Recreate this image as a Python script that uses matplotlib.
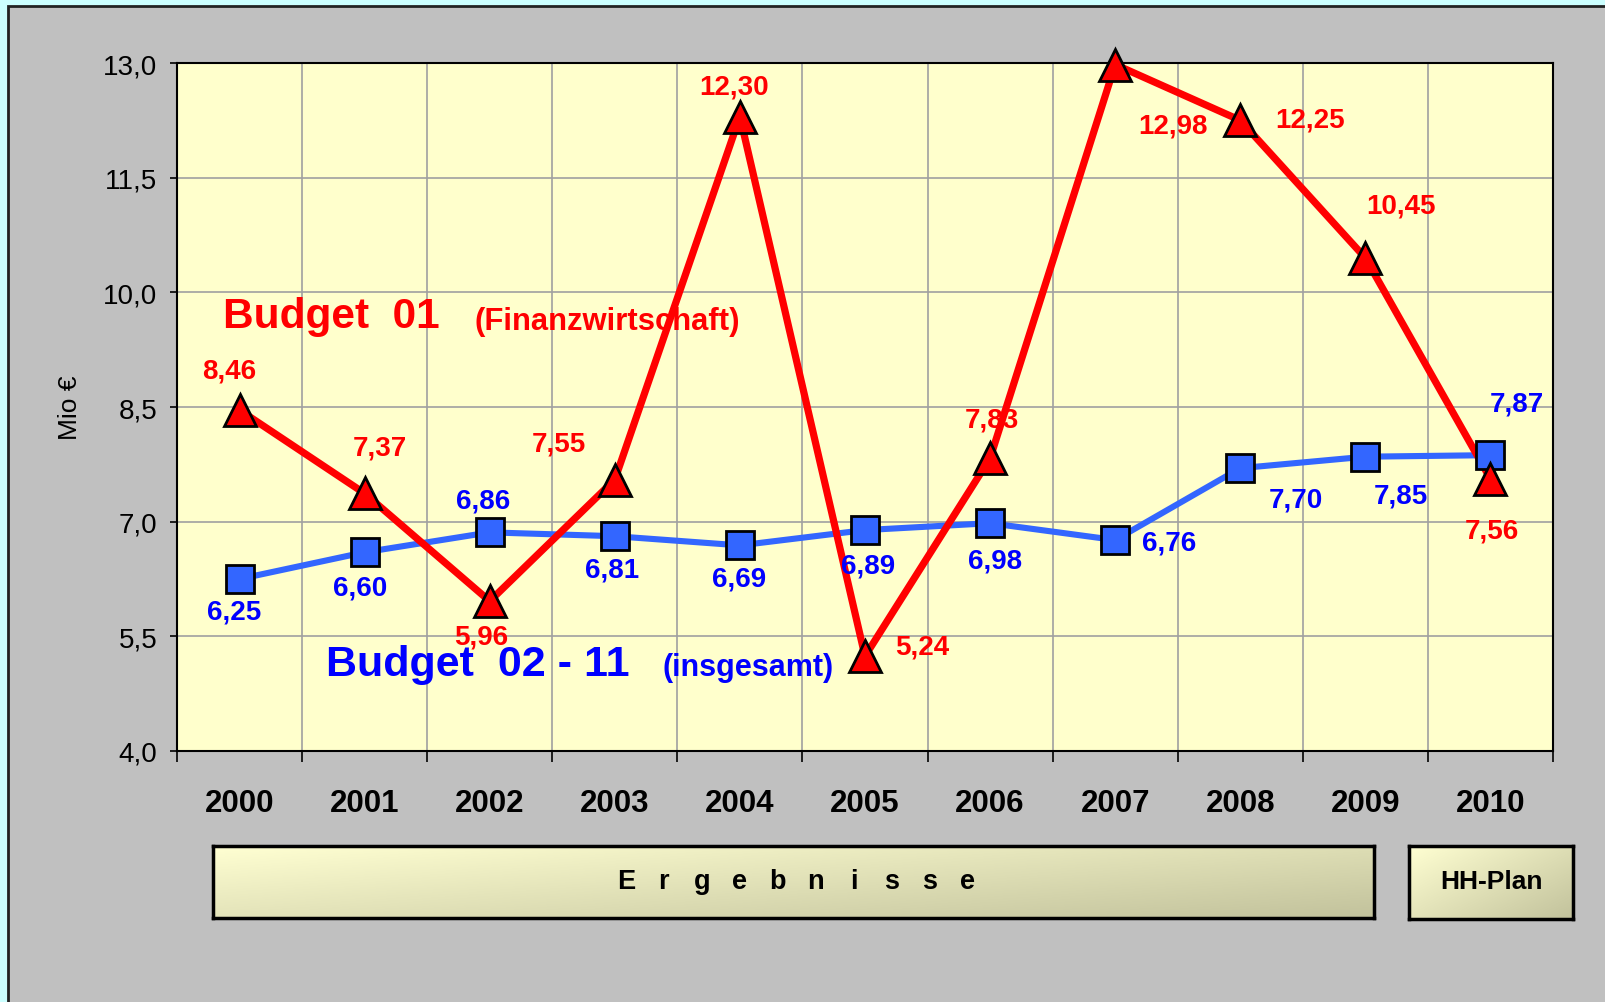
import numpy as np
import matplotlib.pyplot as plt
from matplotlib.patches import Rectangle
from matplotlib.colors import LinearSegmentedColormap

plt.rcParams['font.family'] = ['Liberation Sans', 'DejaVu Sans']

years = ['2000', '2001', '2002', '2003', '2004', '2005', '2006', '2007', '2008', '2009', '2010']
budget_01 = [8.46, 7.37, 5.96, 7.55, 12.30, 5.24, 7.83, 12.98, 12.25, 10.45, 7.56]
budget_02_11 = [6.25, 6.60, 6.86, 6.81, 6.69, 6.89, 6.98, 6.76, 7.70, 7.85, 7.87]
y_ticks = [4.0, 5.5, 7.0, 8.5, 10.0, 11.5, 13.0]

# where the value labels sit relative to their point (pixels)
red_offsets = [(-10, 40), (15, 46), (-9, -35), (-56, 36), (-6, 30), (57, 10),
               (2, 39), (58, -61), (70, 1), (36, 52), (1, -52)]
blue_offsets = [(-5, -33), (-5, -35), (-7, 32), (-3, -33), (-1, -33), (3, -35),
                (5, -37), (54, -2), (56, -31), (36, -39), (26, 52)]


def de(v, n=2):
    return f"{v:.{n}f}".replace('.', ',')


W, H = 1605, 1003
fig = plt.figure(figsize=(W / 100, H / 100), dpi=100)
fig.patch.set_facecolor('#ccffff')
fig.patches.append(Rectangle((8 / W, -0.1), 1.1, 1.1 - 7 / H, transform=fig.transFigure,
                             facecolor='#c0c0c0', edgecolor='#222222', lw=2, zorder=-10))

ax = fig.add_axes([177 / W, 1 - 752 / H, (1553 - 177) / W, (752 - 64) / H])
ax.set_facecolor('#ffffcc')
x = np.arange(len(years))
ax.set_xlim(-0.5, len(years) - 0.5)
ax.set_ylim(4, 13)

ax.set_xticks(x)
ax.set_xticklabels(years, fontsize=22.5, fontweight='bold')
ax.tick_params(axis='x', which='major', length=0, pad=27)
ax.set_xticks(np.arange(-0.5, len(years), 1), minor=True)
ax.tick_params(axis='x', which='minor', length=8, width=1.2, direction='out')
ax.set_yticks(y_ticks)
ax.set_yticklabels([de(v, 1) for v in y_ticks], fontsize=20)
ax.tick_params(axis='y', length=5, width=1.2, pad=9)
ax.grid(axis='x', which='minor', color='#a0a0a0', lw=1.2)
ax.grid(axis='y', which='major', color='#a0a0a0', lw=1.2)
ax.set_axisbelow(True)
for s in ax.spines.values():
    s.set_linewidth(1.5)
    s.set_color('black')

ax.plot(x, budget_02_11, color='#3366ff', lw=4.4, zorder=3)
ax.plot(x, budget_01, color='#ff0000', lw=5.2, zorder=4)
ax.plot(x, budget_02_11, ls='none', marker='s', ms=20.5, mfc='#3366ff', mec='black',
        mew=2, zorder=5, clip_on=False)
ax.plot(x, budget_01, ls='none', marker='^', ms=23, mfc='#ff0000', mec='black',
        mew=2, zorder=6, clip_on=False)

for i, (v, off) in enumerate(zip(budget_01, red_offsets)):
    ax.annotate(de(v), (i, v), xytext=off, textcoords='offset pixels', ha='center',
                va='center', fontsize=20, fontweight='bold', color='#ff0000', zorder=7)
for i, (v, off) in enumerate(zip(budget_02_11, blue_offsets)):
    ax.annotate(de(v), (i, v), xytext=off, textcoords='offset pixels', ha='center',
                va='center', fontsize=20, fontweight='bold', color='#0000ff', zorder=7)

ax.text(-0.134, 9.54, 'Budget  01', fontsize=30.5, fontweight='bold', color='#ff0000')
ax.text(1.88, 9.52, '(Finanzwirtschaft)', fontsize=22.3, fontweight='bold', color='#ff0000')
ax.text(0.69, 5.0, 'Budget  02 - 11', fontsize=31, fontweight='bold', color='#0000ff')
ax.text(3.385, 5.0, '(insgesamt)', fontsize=22, fontweight='bold', color='#0000ff')

fig.text(70 / W, 1 - 408 / H, 'Mio €', rotation=90, fontsize=19, ha='center', va='center')

# shaded boxes under the axis
cmap = LinearSegmentedColormap.from_list('box', ['#ffffd2', '#c2c29c'])
xx, yy = np.meshgrid(np.linspace(0, 1, 300), np.linspace(0, 1, 60))
grad = 0.55 * xx + 0.45 * yy


def shaded_box(x0, y0, x1, y1):
    b = fig.add_axes([x0 / W, 1 - y1 / H, (x1 - x0) / W, (y1 - y0) / H])
    b.imshow(grad, extent=[0, 1, 0, 1], aspect='auto', cmap=cmap, vmin=0, vmax=1)
    b.set_xticks([])
    b.set_yticks([])
    for s in b.spines.values():
        s.set_linewidth(2.5)
        s.set_color('black')
    return b


shaded_box(213, 847, 1374, 919)
for i, ch in enumerate('Ergebnisse'):
    fig.text((626 + 37.9 * i) / W, 1 - 882 / H, ch, fontsize=19.5, fontweight='bold',
             ha='center', va='center')

shaded_box(1409, 847, 1573, 920)
fig.text(1491 / W, 1 - 882 / H, 'HH-Plan', fontsize=19, fontweight='bold',
         ha='center', va='center')

fig.savefig('out.png', dpi=100, facecolor=fig.get_facecolor())
